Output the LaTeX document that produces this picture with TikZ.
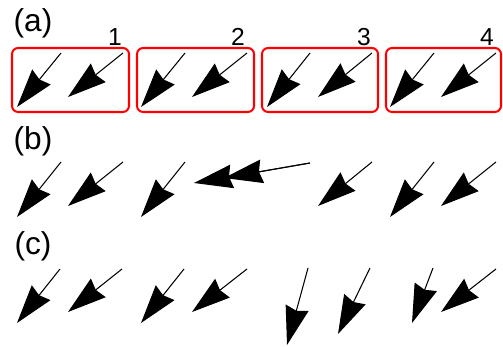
\documentclass[tikz,border=0pt]{standalone}
\usepackage{fontspec}
\setmainfont{Liberation Sans}
\usetikzlibrary{arrows.meta}
\tikzset{
  vec/.style={line width=0.6pt, -{Stealth[length=22pt, width=13.5pt, inset=1.8pt]}},
  frame/.style={red, line width=1.15pt, rounded corners=3.5pt},
  rowlab/.style={font=\fontsize{18}{20}\selectfont, inner sep=0pt},
  numlab/.style={font=\fontsize{14}{16}\selectfont, inner sep=0pt}
}
\begin{document}
\begin{tikzpicture}[x=0.02cm, y=-0.02cm]
  \useasboundingbox (0,0) rectangle (503,347);
  % (a)
  \node[rowlab] (la) at (33,23) {(a)};
  \node[numlab] (n1) at (115,37) {1};
  \node[numlab] (n2) at (238,37) {2};
  \node[numlab] (n3) at (364,37) {3};
  \node[numlab] (n4) at (487,37) {4};
  \draw[frame] (12,48) rectangle (129,112);
  \draw[frame] (137,48) rectangle (254,112);
  \draw[frame] (262,48) rectangle (378,112);
  \draw[frame] (386,48) rectangle (501,112);
  \draw[vec] (61,53) -- (17,107);
  \draw[vec] (123,53) -- (68,97);
  \draw[vec] (185,53) -- (141,107);
  \draw[vec] (247,53) -- (192,97);
  \draw[vec] (310,53) -- (267,107);
  \draw[vec] (372,53) -- (318,97);
  \draw[vec] (434,53) -- (390,107);
  \draw[vec] (496,53) -- (441,97);
  % (b)
  \node[rowlab] (lb) at (33,141) {(b)};
  \draw[vec] (61,162) -- (17,217);
  \draw[vec] (123,162) -- (68,206);
  \draw[vec] (185,162) -- (141,217);
  \draw[vec] (310,163) -- (194,183);
  \draw[vec] (310,163) -- (224,178);
  \draw[vec] (372,162) -- (318,206);
  \draw[vec] (434,162) -- (390,217);
  \draw[vec] (496,162) -- (441,206);
  % (c)
  \node[rowlab] (lc) at (33,246) {(c)};
  \draw[vec] (60,269) -- (17,323);
  \draw[vec] (122,269) -- (68,312);
  \draw[vec] (184,269) -- (141,323);
  \draw[vec] (247,269) -- (192,312);
  \draw[vec] (308,268) -- (287,345);
  \draw[vec] (370,268) -- (338,334);
  \draw[vec] (433,268) -- (412,323);
  \draw[vec] (496,269) -- (441,312);
\end{tikzpicture}
\end{document}
